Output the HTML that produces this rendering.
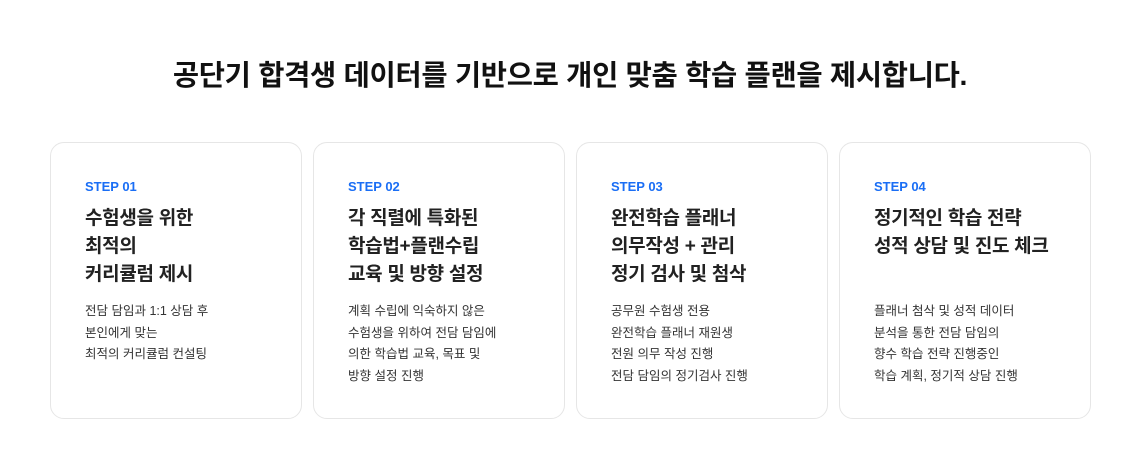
<!DOCTYPE html>
<html><head><meta charset="utf-8"><style>
body{margin:0;width:1140px;height:470px;background:#fff;font-family:"Liberation Sans","Noto Sans CJK KR",sans-serif;color:#222;position:relative;overflow:hidden}
h1{position:absolute;top:53px;left:0;width:1140px;text-align:center;margin:0;font-size:28.5px;font-weight:600;color:#111;letter-spacing:-0.3px}
.card{position:absolute;top:142px;width:252px;height:277px;border:1px solid #e6e6e6;border-radius:14px;box-sizing:border-box}
.step{position:absolute;left:34px;top:36px;font-size:13px;font-weight:bold;color:#1a6ef5}
.t{position:absolute;left:34px;top:62px;font-size:19px;font-weight:bold;line-height:28px;color:#222;letter-spacing:-0.3px}
.d{position:absolute;left:34px;top:158px;font-size:12.5px;line-height:21.5px;color:#333}
</style></head><body>
<h1>공단기 합격생 데이터를 기반으로 개인 맞춤 학습 플랜을 제시합니다.</h1>
<div class="card" style="left:50px"><div class="step">STEP 01</div><div class="t">수험생을 위한<br>최적의<br>커리큘럼 제시</div><div class="d">전담 담임과 1:1 상담 후<br>본인에게 맞는<br>최적의 커리큘럼 컨설팅</div></div>
<div class="card" style="left:313px"><div class="step">STEP 02</div><div class="t">각 직렬에 특화된<br>학습법+플랜수립<br>교육 및 방향 설정</div><div class="d">계획 수립에 익숙하지 않은<br>수험생을 위하여 전담 담임에<br>의한 학습법 교육, 목표 및<br>방향 설정 진행</div></div>
<div class="card" style="left:576px"><div class="step">STEP 03</div><div class="t">완전학습 플래너<br>의무작성 + 관리<br>정기 검사 및 첨삭</div><div class="d">공무원 수험생 전용<br>완전학습 플래너 재원생<br>전원 의무 작성 진행<br>전담 담임의 정기검사 진행</div></div>
<div class="card" style="left:839px"><div class="step">STEP 04</div><div class="t">정기적인 학습 전략<br>성적 상담 및 진도 체크</div><div class="d">플래너 첨삭 및 성적 데이터<br>분석을 통한 전담 담임의<br>향수 학습 전략 진행중인<br>학습 계획, 정기적 상담 진행</div></div>
</body></html>
